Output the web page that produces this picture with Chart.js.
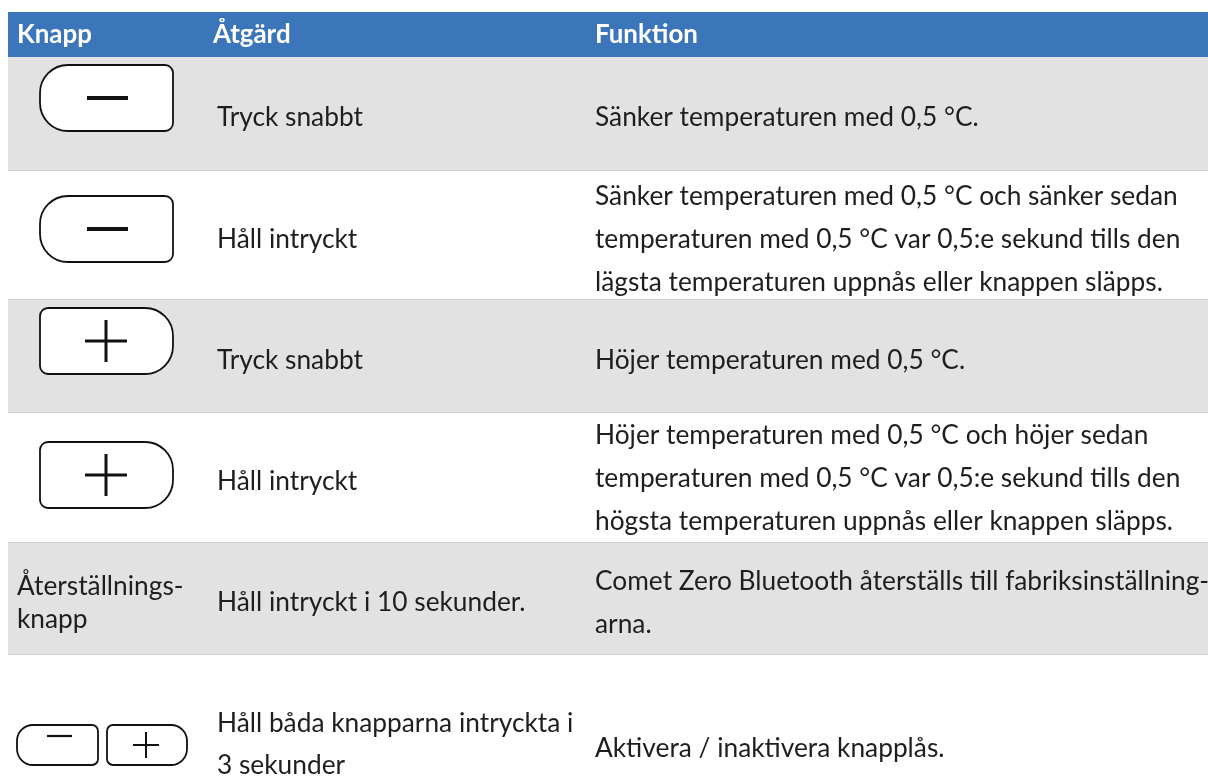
<!DOCTYPE html>
<html lang="sv">
<head>
<meta charset="utf-8">
<title>Knappar</title>
<script src="https://cdn.jsdelivr.net/npm/chart.js@4.4.1/dist/chart.umd.min.js"></script>
<style>
    html, body { margin: 0; padding: 0; background: #ffffff; }
    canvas { display: block; }
</style>
</head>
<body>
<canvas id="tabell" width="1208" height="779"></canvas>
<script>
// tabellens innehåll
const rubriker = ["Knapp", "Åtgärd", "Funktion"];
const knappar = ["minus", "minus", "plus", "plus", "Återställnings-\nknapp", "minus+plus"];
const atgarder = [
    "Tryck snabbt",
    "Håll intryckt",
    "Tryck snabbt",
    "Håll intryckt",
    "Håll intryckt i 10 sekunder.",
    "Håll båda knapparna intryckta i\n3 sekunder"
];
const funktioner = [
    "Sänker temperaturen med 0,5 °C.",
    "Sänker temperaturen med 0,5 °C och sänker sedan\ntemperaturen med 0,5 °C var 0,5:e sekund tills den\nlägsta temperaturen uppnås eller knappen släpps.",
    "Höjer temperaturen med 0,5 °C.",
    "Höjer temperaturen med 0,5 °C och höjer sedan\ntemperaturen med 0,5 °C var 0,5:e sekund tills den\nhögsta temperaturen uppnås eller knappen släpps.",
    "Comet Zero Bluetooth återställs till fabriksinställning-\narna.",
    "Aktivera / inaktivera knapplås."
];

// layout (px)
const rubrikHojd = 45;
const radHojd = [114, 129, 113, 130, 112, 180];
const knappTopp = [8, 25, 8, 29, 0, 70];
const kolX = [9, 209, 587];
const rubrikX = [9, 205, 587];

const BLA = "#3b75ba";
const GRA = "#e2e2e2";
const LINJE = "#cdcdcd";
const TEXT = "#1e1e1e";
const FONT = "Lato, Roboto, sans-serif";

const datasets = [{
    label: "rubrik",
    data: [rubrikHojd],
    backgroundColor: BLA,
    borderWidth: 0
}];
radHojd.forEach((h, i) => {
    datasets.push({
        label: "rad " + (i + 1),
        data: [h],
        backgroundColor: i % 2 === 0 ? GRA : "#ffffff",
        borderColor: LINJE,
        borderWidth: i === radHojd.length - 1 ? 0 : { top: 0, left: 0, right: 0, bottom: 1 },
        borderSkipped: false
    });
});

// teckenstorlek som ger samma radbredd som förlagan
function passaFont(ctx, vikt, prov, bredd) {
    ctx.font = vikt + " 100px " + FONT;
    return Math.round(100 * bredd / ctx.measureText(prov).width * 10) / 10;
}

function knapp(ctx, x, y, w, h, tecken, stor, liten) {
    const radii = tecken === "minus" ? [stor, liten, liten, stor] : [liten, stor, stor, liten];
    ctx.beginPath();
    ctx.roundRect(x, y, w, h, radii);
    ctx.fillStyle = "#ffffff";
    ctx.fill();
    ctx.lineWidth = 1.8;
    ctx.strokeStyle = "#111111";
    ctx.stroke();
}

function streck(ctx, x1, y1, x2, y2, lw) {
    ctx.beginPath();
    ctx.moveTo(x1, y1);
    ctx.lineTo(x2, y2);
    ctx.lineWidth = lw;
    ctx.strokeStyle = "#111111";
    ctx.stroke();
}

function radText(ctx, text, x, mitt, lh) {
    const rader = text.split("\n");
    const start = mitt - (rader.length - 1) * lh / 2;
    rader.forEach((r, i) => ctx.fillText(r, x, start + i * lh));
}

const tabellPlugin = {
    id: "tabell",
    afterDatasetsDraw(chart) {
        const ctx = chart.ctx;
        const left = chart.chartArea.left;
        ctx.save();
        const brod = passaFont(ctx, "normal", "Sänker temperaturen med 0,5 °C och sänker sedan", 582);
        const rubFont = passaFont(ctx, "bold", "Knapp", 75);
        ctx.textBaseline = "alphabetic";
        ctx.textAlign = "left";

        // rubrikrad
        const rub = chart.getDatasetMeta(0).data[0];
        const rubMitt = (rub.y + rub.base) / 2;
        ctx.font = "bold " + rubFont + "px " + FONT;
        ctx.fillStyle = "#ffffff";
        rubriker.forEach((r, i) => ctx.fillText(r, left + rubrikX[i], rubMitt + 8));

        radHojd.forEach((h, i) => {
            const el = chart.getDatasetMeta(i + 1).data[0];
            const topp = Math.min(el.y, el.base);
            const mitt = topp + h / 2 + 12;

            ctx.font = brod + "px " + FONT;
            ctx.fillStyle = TEXT;
            radText(ctx, atgarder[i], left + kolX[1], mitt - (i === 5 ? 4 : 0), 42);
            radText(ctx, funktioner[i], left + kolX[2], mitt - (i === 3 ? 3 : 0), 43);

            const k = knappar[i];
            if (k === "minus" || k === "plus") {
                const bx = left + 32, by = topp + knappTopp[i], bw = 133, bh = 66;
                knapp(ctx, bx, by, bw, bh, k, 28, 8);
                const cx = bx + 66, cy = by + bh / 2;
                if (k === "minus") {
                    streck(ctx, cx - 19, cy, cx + 22, cy, 4);
                } else {
                    streck(ctx, cx - 21, cy, cx + 21, cy, 3);
                    streck(ctx, cx, cy - 21, cx, cy + 21, 3);
                }
            } else if (k === "minus+plus") {
                const by = topp + knappTopp[i], bh = 40;
                knapp(ctx, left + 9, by, 81, bh, "minus", 16, 6);
                streck(ctx, left + 39, by + 11, left + 64, by + 11, 2.2);
                knapp(ctx, left + 99, by, 80, bh, "plus", 16, 6);
                const cx = left + 138, cy = by + bh / 2;
                streck(ctx, cx - 13, cy, cx + 13, cy, 2);
                streck(ctx, cx, cy - 13, cx, cy + 13, 2);
            } else {
                ctx.font = brod + "px " + FONT;
                ctx.fillStyle = TEXT;
                radText(ctx, k, left + 9, mitt, 33);
            }
        });
        ctx.restore();
    }
};

new Chart(document.getElementById("tabell").getContext("2d"), {
    type: "bar",
    data: { labels: ["tabell"], datasets },
    options: {
        responsive: false,
        animation: false,
        devicePixelRatio: 1,
        layout: { padding: { left: 8, right: 0, top: 0, bottom: 0 } },
        datasets: { bar: { categoryPercentage: 1, barPercentage: 1, inflateAmount: 0 } },
        plugins: { legend: { display: false }, tooltip: { enabled: false } },
        scales: {
            x: { stacked: true, display: false },
            y: { stacked: true, display: false, reverse: true, min: -12, max: 767 }
        }
    },
    plugins: [tabellPlugin]
});
</script>
</body>
</html>
